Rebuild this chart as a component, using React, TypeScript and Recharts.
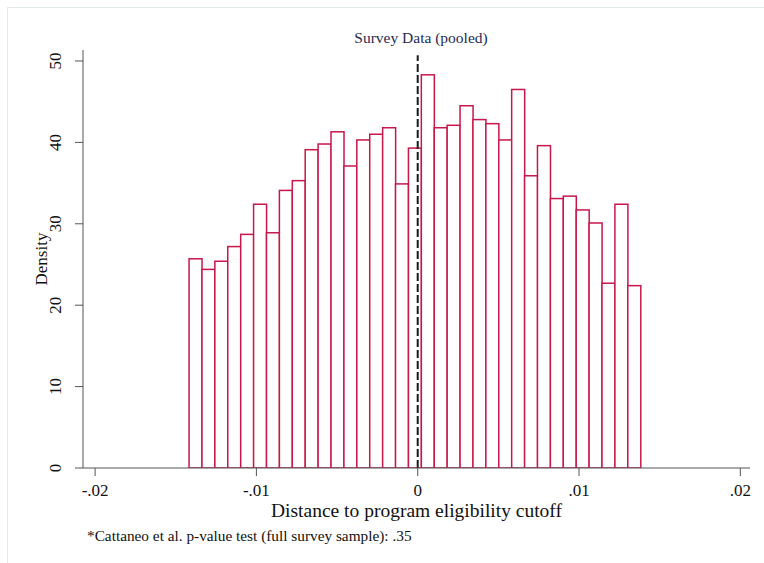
import React from "react";
import {
  ComposedChart,
  Bar,
  XAxis,
  YAxis,
  ReferenceLine,
  Label,
} from "recharts";

// Bin centres (distance to eligibility cutoff), bin width 0.0008
const binCenters: number[] = [
  -0.013775, -0.012975, -0.012175, -0.011375, -0.010575, -0.009775, -0.008975,
  -0.008175, -0.007375, -0.006575, -0.005775, -0.004975, -0.004175, -0.003375,
  -0.002575, -0.001775, -0.000975, -0.000175, 0.000625, 0.001425, 0.002225,
  0.003025, 0.003825, 0.004625, 0.005425, 0.006225, 0.007025, 0.007825,
  0.008625, 0.009425, 0.010225, 0.011025, 0.011825, 0.012625, 0.013425,
];

const densities: number[] = [
  25.7, 24.4, 25.4, 27.2, 28.7, 32.4, 28.9, 34.1, 35.3, 39.1, 39.8, 41.3, 37.1,
  40.3, 41.0, 41.8, 34.9, 39.3, 48.3, 41.8, 42.1, 44.5, 42.8, 42.3, 40.3, 46.5,
  35.9, 39.6, 33.1, 33.4, 31.7, 30.1, 22.7, 32.4, 22.4,
];

const xTicks: number[] = [-0.02, -0.01, 0, 0.01, 0.02];
const xTickLabels: string[] = ["-.02", "-.01", "0", ".01", ".02"];
const yTicks: number[] = [0, 10, 20, 30, 40, 50];

const data = binCenters.map((x, i) => ({ x, density: densities[i] }));

const SERIF = "'Liberation Serif', 'Times New Roman', serif";
const BAR_COLOR = "#c8174b";
const AXIS_COLOR = "#555555";

const YTick = (props: any) => {
  const { x, y, payload } = props;
  const bx = x - 12;
  return (
    <text
      x={bx}
      y={y}
      transform={`rotate(-90 ${bx} ${y})`}
      textAnchor="middle"
      fontFamily={SERIF}
      fontSize={17}
      fill="#111"
    >
      {payload.value}
    </text>
  );
};

const XTick = (props: any) => {
  const { x, y, payload } = props;
  const idx = xTicks.indexOf(payload.value);
  return (
    <text
      x={x}
      y={y + 18}
      textAnchor="middle"
      fontFamily={SERIF}
      fontSize={17}
      fill="#111"
    >
      {idx >= 0 ? xTickLabels[idx] : payload.value}
    </text>
  );
};

const HistBar = (props: any) => {
  const { x, y, width, height } = props;
  if (height == null || width == null) return null;
  return (
    <rect
      x={x}
      y={y}
      width={width}
      height={height}
      fill="#ffffff"
      stroke={BAR_COLOR}
      strokeWidth={1.5}
    />
  );
};

export default function App() {
  return (
    <div
      style={{
        position: "absolute",
        left: 0,
        top: 0,
        width: 764,
        height: 563,
        background: "#ffffff",
        overflow: "hidden",
      }}
    >
      <div
        style={{
          position: "absolute",
          left: 7,
          top: 7,
          width: 780,
          height: 600,
          borderTop: "1px solid #e2ebe8",
          borderLeft: "1px solid #e2ebe8",
        }}
      />
      <ComposedChart
        width={764}
        height={563}
        data={data}
        margin={{ top: 50, right: 14, bottom: 0, left: 0 }}
        barCategoryGap={0}
        barGap={0}
        style={{ position: "absolute", left: 0, top: 0 }}
      >
        <XAxis
          dataKey="x"
          type="number"
          domain={[-0.02075, 0.0206]}
          ticks={xTicks}
          allowDataOverflow
          height={95}
          tickSize={8}
          stroke={AXIS_COLOR}
          tickLine={{ stroke: AXIS_COLOR }}
          tick={<XTick />}
        >
          <Label
            value="Distance to program eligibility cutoff"
            position="insideTop"
            offset={35}
            style={{ fontFamily: SERIF, fontSize: 19.5, fill: "#111" }}
          />
        </XAxis>
        <YAxis
          type="number"
          domain={[0, 51.35]}
          ticks={yTicks}
          allowDataOverflow
          width={83}
          tickSize={8}
          stroke={AXIS_COLOR}
          tickLine={{ stroke: AXIS_COLOR }}
          tick={<YTick />}
        >
          <Label
            value="Density"
            angle={-90}
            position="insideLeft"
            offset={41}
            style={{
              fontFamily: SERIF,
              fontSize: 17,
              fill: "#111",
              textAnchor: "middle",
            }}
          />
        </YAxis>
        <Bar
          dataKey="density"
          isAnimationActive={false}
          shape={<HistBar />}
        />
        <ReferenceLine
          segment={[
            { x: 0, y: 0 },
            { x: 0, y: 50.7 },
          ]}
          stroke="#1a1a1a"
          strokeWidth={2}
          strokeDasharray="8 3"
          ifOverflow="visible"
        />
        <text
          x={421}
          y={43}
          textAnchor="middle"
          fontFamily={SERIF}
          fontSize={15.5}
          fill="#1f2a55"
        >
          Survey Data (pooled)
        </text>
        <text
          x={87}
          y={541}
          textAnchor="start"
          fontFamily={SERIF}
          fontSize={15.3}
          fill="#111"
        >
          *Cattaneo et al. p-value test (full survey sample): .35
        </text>
      </ComposedChart>
    </div>
  );
}
